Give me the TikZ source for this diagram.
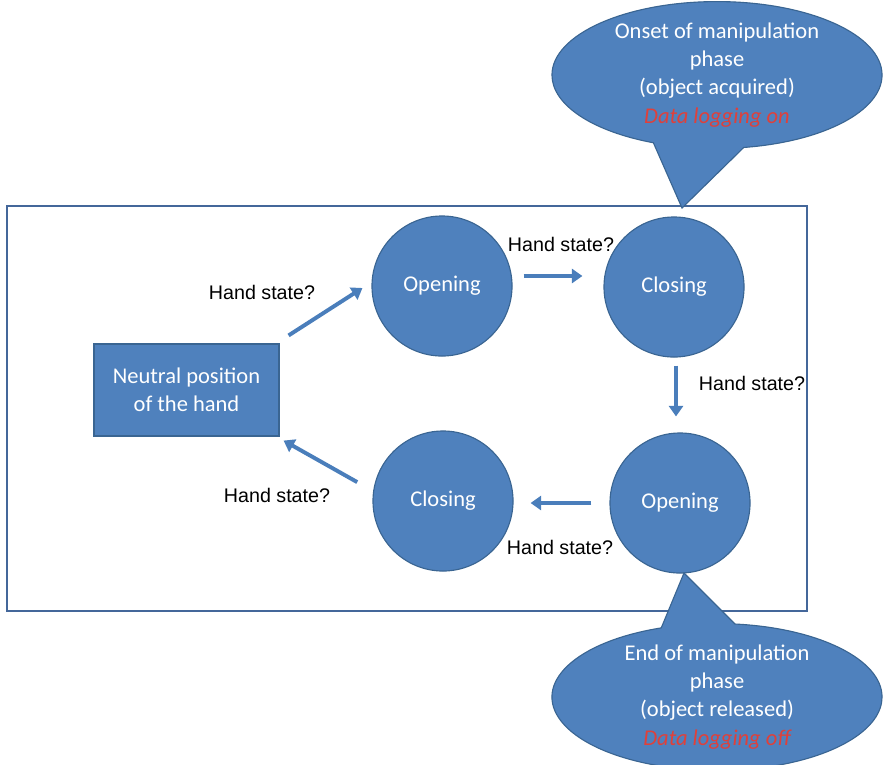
\documentclass[tikz,border=0pt]{standalone}
\usepackage{fontspec}
\setmainfont{Carlito}
\newfontfamily\labelfont{Liberation Sans}
\usetikzlibrary{calc}
\usetikzlibrary{positioning,shapes.geometric,shapes.callouts,arrows.meta}
\definecolor{stateblue}{HTML}{4F81BD}
\definecolor{stateedge}{HTML}{3A6592}
\definecolor{framecol}{HTML}{44679A}
\definecolor{arrowblue}{HTML}{4A7EBB}
\definecolor{logred}{HTML}{E0403A}

\begin{document}
\begin{tikzpicture}[x=0.025cm, y=-0.025cm,
font=\fontsize{16}{20}\selectfont,
state/.style={circle, draw=stateedge, line width=0.8pt, fill=stateblue, text=white, minimum size=3.5cm, inner sep=0pt},
rest/.style={rectangle, draw=stateedge, line width=0.8pt, fill=stateblue, text=white, minimum width=4.625cm, minimum height=2.3cm, align=center},
bubble/.style={ellipse callout, draw=stateedge, line width=0.8pt, fill=stateblue, text=white, minimum width=8.25cm, minimum height=3.35cm, inner sep=0pt, align=center, callout pointer arc=26},
flow/.style={draw=arrowblue, line width=2.8pt, -{Triangle[length=7.5pt,width=10pt]}},
query/.style={font=\labelfont\fontsize{14}{16}\selectfont, inner sep=0pt}
]
\useasboundingbox (0,0) rectangle (885,764);

\draw[framecol, line width=1.4pt] (7,206) rectangle (807,611);

\node[rest] (neutral) at (186.5,390) {Neutral position\\of the hand};
\node[state] (open1) at (442,286) {Opening};
\node[state] (close1) at (674,287) {Closing};
\node[state] (open2) at (680,503) {Opening};
\node[state] (close2) at (443,501) {Closing};

\node[bubble, callout pointer arc=32, callout absolute pointer={(682,208)}] (onset) at (717,75)
  {Onset of manipulation\\phase\\(object acquired)\\\textcolor{logred}{\itshape Data logging on}};
\node[bubble, callout absolute pointer={(684,573)}] (release) at (717,697)
  {End of manipulation\\phase\\(object released)\\\textcolor{logred}{\itshape Data logging off}};

\draw[flow] ([xshift=2.25mm,yshift=2mm]neutral.north east)
  -- ([xshift=-2.25mm,yshift=-0.5mm]open1.west);
\draw[flow] ([xshift=2.75mm,yshift=2.5mm]open1.east)
  -- ([xshift=-5.25mm,yshift=2.5mm]open1.east -| close1.west);
\draw[flow] ([xshift=0.5mm,yshift=-2mm]close1.south)
  -- ([xshift=0.5mm,yshift=4mm]close1.south |- open2.north);
\draw[flow] ([xshift=-4.5mm]open2.west)
  -- ([xshift=4.25mm]open2.west -| close2.east);
\draw[flow] ([xshift=-4.25mm,yshift=0.75mm]close2.167)
  -- ([xshift=1mm,yshift=-1mm]neutral.south east);

\node[query] (q1) at (262,292) {Hand state?};
\node[query] (q2) at (561,244) {Hand state?};
\node[query] (q3) at (752,383) {Hand state?};
\node[query] (q4) at (560,547) {Hand state?};
\node[query] (q5) at (277,495) {Hand state?};

\end{tikzpicture}
\end{document}
